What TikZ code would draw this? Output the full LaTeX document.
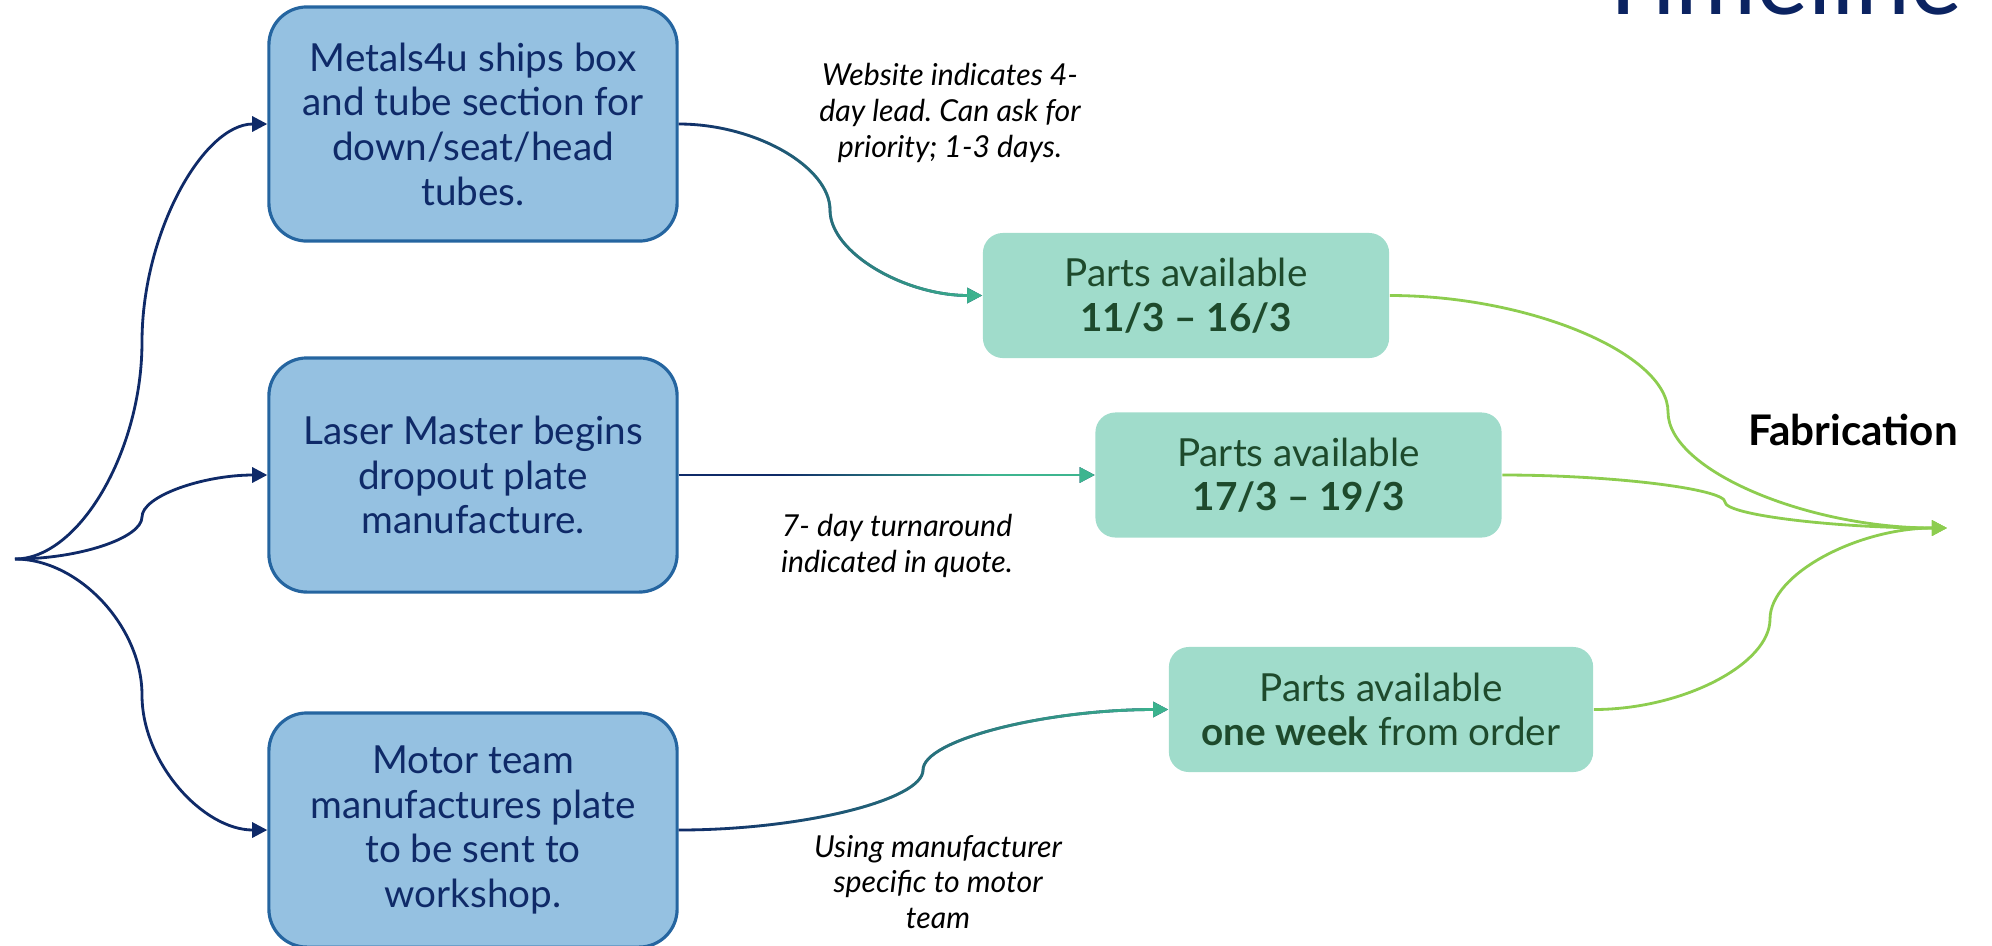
\documentclass[tikz,border=0pt]{standalone}
\usepackage{fontspec}
\setmainfont{Lato}
\usepackage{tikz}
\usetikzlibrary{positioning,arrows.meta,fadings}

\definecolor{titlenavy}{HTML}{0B2361}
\definecolor{navy}{HTML}{0F2A68}
\definecolor{boxblue}{HTML}{95C1E1}
\definecolor{boxedge}{HTML}{2565A0}
\definecolor{partsgreen}{HTML}{A0DCCB}
\definecolor{partstext}{HTML}{1E4A2C}
\definecolor{arrowteal}{HTML}{3DB58F}
\definecolor{arrowlime}{HTML}{8DCD4F}

\tikzfading[name=fadein, left color=transparent!100, right color=transparent!0]

\begin{document}
\frenchspacing
\begin{tikzpicture}[x=0.01cm, y=-0.01cm, >={Triangle[length=4.3pt,width=4.3pt]},
    task/.style={draw=boxedge, line width=0.9pt, fill=boxblue, rounded corners=0.38cm,
        minimum width=4.08cm, minimum height=2.34cm, align=center, text=navy,
        font=\fontsize{11}{12.7}\selectfont},
    parts/.style={fill=partsgreen, rounded corners=0.2cm, minimum width=4.06cm,
        minimum height=1.25cm, align=center, text=partstext,
        font=\fontsize{11}{12.7}\selectfont},
    note/.style={align=center, font=\fontsize{8.6}{10.2}\selectfont\itshape},
    lead/.style={->, navy, line width=0.8pt},
    ship/.style={->, navy, line width=0.8pt, postaction={draw=arrowteal, path fading=fadein}},
    merge/.style={->, arrowlime, line width=0.8pt}]

    \useasboundingbox (0,0) rectangle (1992,945);

    % Titel (oben abgeschnitten)
    \node[anchor=base east, inner sep=0pt, text=titlenavy, font=\fontsize{28}{32}\selectfont] (title) at (1963,14) {Timeline};

    % Bestellungen
    \node[task] (metals) at (473,124) {Metals4u ships box\\and tube section for\\down/seat/head\\tubes.};
    \node[task] (laser) at (473,475) {Laser Master begins\\dropout plate\\manufacture.};
    \node[task] (motor) at (473,830) {Motor team\\manufactures plate\\to be sent to\\workshop.};

    % Teile verfuegbar
    \node[parts] (partsA) at (1186,295.5) {Parts available\\\textbf{11/3 – 16/3}};
    \node[parts] (partsB) at (1298.5,475) {Parts available\\\textbf{17/3 – 19/3}};
    \node[parts, minimum width=4.24cm] (partsC) at (1381,709.5) {Parts available\\\textbf{one week} from order};

    \node[font=\bfseries\fontsize{12}{14}\selectfont] (fab) at (1853,430) {Fabrication};
    \coordinate (fabin) at (1947,528);
    \coordinate (start) at (15,559);

    % Anmerkungen
    \node[note] (leadnote) at (950,113) {Website indicates 4-\\day lead. Can ask for\\priority; 1-3 days.};
    \node[note] (laternote) at (897,546) {7- day turnaround\\indicated in quote.};
    \node[note] (motornote) at (938,882) {Using manufacturer\\specific to motor\\team};

    % Verbindungen links
    \draw[lead] (start) to[out=0,in=-90,out distance=0.64cm,in distance=1.09cm] (142,342)
        to[out=90,in=180,out distance=1.09cm,in distance=0.64cm] (metals.west);
    \draw[lead] (start) to[out=0,in=-90,out distance=0.64cm,in distance=0.21cm] (142,517)
        to[out=90,in=180,out distance=0.21cm,in distance=0.64cm] (laser.west);
    \draw[lead] (start) to[out=0,in=90,out distance=0.64cm,in distance=0.68cm] (142,695)
        to[out=-90,in=180,out distance=0.68cm,in distance=0.64cm] (motor.west);

    % Lieferung
    \draw[ship] (metals.east) to[out=0,in=90,out distance=0.77cm,in distance=0.43cm] (830,210)
        to[out=-90,in=180,out distance=0.43cm,in distance=0.77cm] (partsA.west);
    \draw[->, navy, line width=0.8pt, postaction={draw=arrowteal, path fading=fadein, fit fading=false,
        fading transform={shift={(886,475)}, xscale=1.2}}] (laser.east) -- (partsB.west);
    \draw[ship] (motor.east) to[out=0,in=-90,out distance=1.23cm,in distance=0.3cm] (923,770)
        to[out=90,in=180,out distance=0.3cm,in distance=1.23cm] (partsC.west);

    % Zusammenfuehrung
    \draw[merge] (partsA.east) to[out=0,in=90,out distance=1.4cm,in distance=0.58cm] (1668,412)
        to[out=-90,in=180,out distance=0.58cm,in distance=1.4cm] (fabin);
    \draw[merge] (partsB.east) to[out=0,in=90,out distance=1.11cm,in distance=0.13cm] (1725,502)
        to[out=-90,in=180,out distance=0.13cm,in distance=1.11cm] (fabin);
    \draw[merge] (partsC.east) to[out=0,in=-90,out distance=0.89cm,in distance=0.45cm] (1770,619)
        to[out=90,in=180,out distance=0.45cm,in distance=0.89cm] (fabin);

\end{tikzpicture}
\end{document}
